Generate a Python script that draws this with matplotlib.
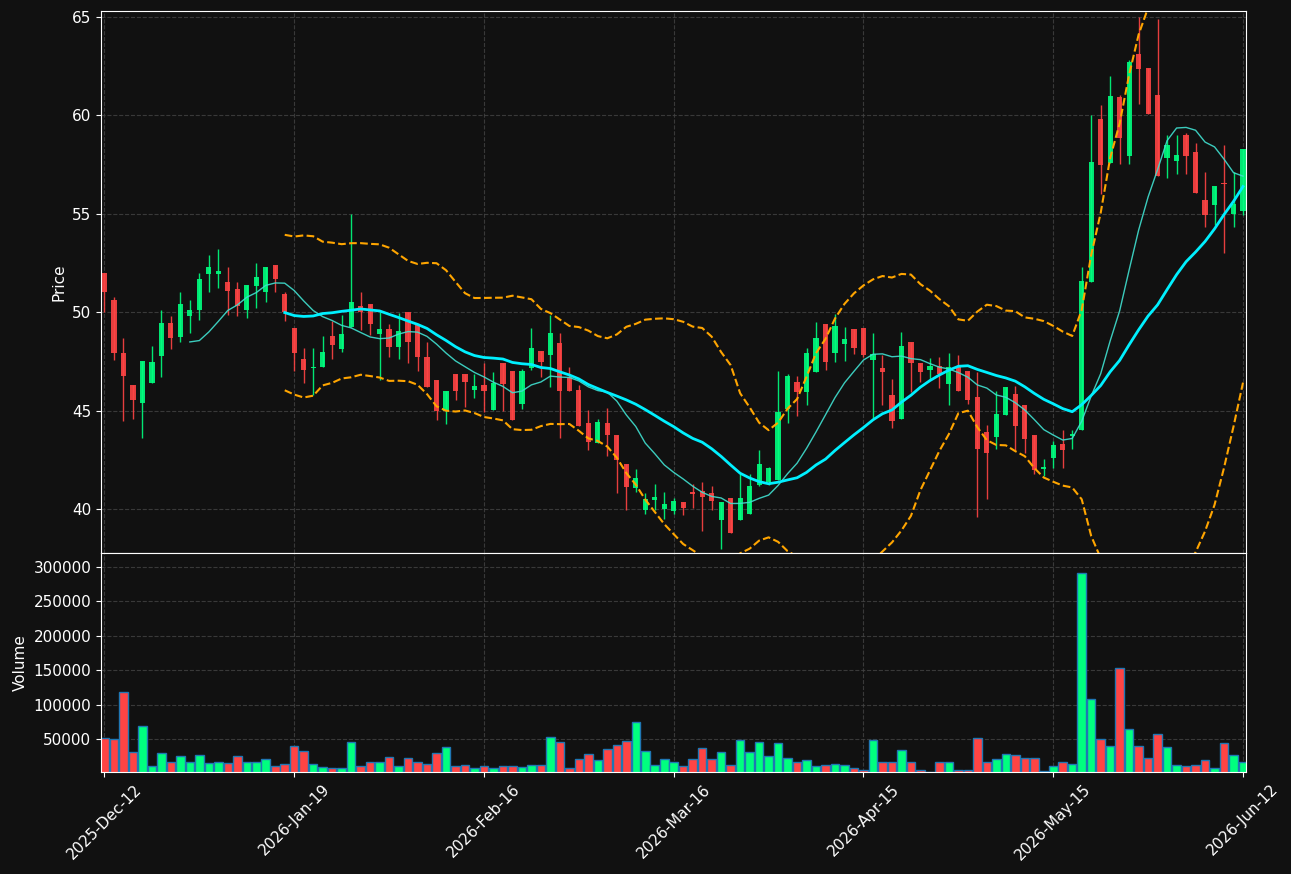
import numpy as np
import pandas as pd
import matplotlib
matplotlib.use("Agg")
import matplotlib.pyplot as plt

# daily OHLC + volume
opens = [51.99, 50.63, 47.94, 46.31, 45.36, 46.38, 47.76, 49.42, 48.71, 49.79,
         50.09, 51.94, 51.94, 51.50, 51.15, 50.09, 51.34, 51.00, 52.40, 50.93,
         49.21, 47.64, 47.14, 47.23, 48.80, 48.10, 49.26, 50.32, 50.42, 48.91,
         49.15, 48.25, 49.98, 49.38, 47.74, 46.53, 45.00, 46.83, 46.83, 46.03,
         46.28, 45.03, 47.43, 47.02, 45.33, 47.18, 48.04, 47.80, 48.45, 46.68,
         46.03, 44.36, 43.33, 44.39, 43.77, 42.28, 41.08, 39.93, 40.48, 39.98,
         39.88, 40.37, 40.88, 40.91, 40.83, 39.44, 40.58, 39.44, 39.74, 41.23,
         41.38, 41.48, 45.06, 46.47, 45.93, 46.98, 49.37, 47.94, 48.40, 49.15,
         49.21, 47.58, 47.18, 45.77, 44.59, 48.50, 47.43, 47.04, 47.28, 46.33,
         47.23, 47.02, 45.68, 43.93, 43.65, 44.76, 45.82, 45.27, 43.74, 42.03,
         42.57, 43.28, 43.69, 43.99, 51.53, 59.81, 57.58, 60.93, 57.94, 63.10,
         62.40, 61.02, 57.80, 57.69, 59.00, 58.10, 55.70, 55.45, 56.52, 54.97,
         55.15]
highs = [51.99, 50.74, 48.69, 46.31, 47.53, 48.27, 50.12, 49.82, 51.04, 50.63,
         51.99, 52.91, 53.21, 52.31, 51.50, 51.39, 52.50, 52.31, 52.40, 51.04,
         49.21, 48.20, 48.20, 48.80, 49.54, 49.84, 55.00, 51.04, 50.42, 50.00,
         49.37, 49.95, 49.98, 49.38, 48.50, 46.53, 46.01, 46.83, 46.83, 46.83,
         47.43, 46.98, 47.43, 47.02, 47.13, 49.21, 48.04, 49.86, 48.94, 47.23,
         46.28, 45.03, 44.59, 45.13, 43.77, 42.28, 42.03, 40.83, 41.27, 40.88,
         40.56, 40.37, 41.27, 41.37, 41.18, 40.34, 40.58, 41.78, 41.78, 42.98,
         42.13, 47.00, 46.83, 46.77, 48.20, 49.51, 49.37, 49.89, 49.26, 49.15,
         49.21, 48.94, 47.80, 46.61, 48.99, 48.50, 47.43, 47.69, 47.74, 47.94,
         47.80, 47.02, 46.95, 44.27, 45.98, 46.21, 46.26, 45.27, 43.74, 42.52,
         43.47, 44.02, 44.02, 52.29, 60.00, 60.51, 61.99, 61.02, 62.79, 65.00,
         62.40, 64.85, 59.00, 59.00, 59.08, 58.59, 57.11, 56.40, 58.50, 57.11,
         58.29]
lows = [50.00, 47.57, 44.48, 44.57, 43.62, 46.38, 46.70, 48.11, 48.47, 48.94,
        49.59, 51.00, 51.20, 49.84, 49.79, 49.68, 50.19, 50.49, 51.00, 49.54,
        47.00, 46.40, 45.77, 47.23, 47.62, 47.99, 49.26, 49.08, 48.85, 46.53,
        47.74, 47.64, 47.43, 47.00, 46.17, 44.53, 44.32, 45.52, 45.19, 45.63,
        44.92, 45.03, 45.00, 44.51, 45.06, 47.04, 46.68, 46.19, 43.62, 45.98,
        44.23, 42.98, 43.33, 42.68, 40.83, 39.93, 40.88, 39.77, 39.93, 39.47,
        39.77, 39.68, 40.04, 38.89, 39.93, 37.99, 38.78, 39.44, 39.74, 41.18,
        41.23, 41.48, 44.37, 44.73, 45.27, 46.98, 47.04, 47.48, 47.53, 47.88,
        47.71, 44.62, 45.27, 44.13, 44.59, 45.93, 46.47, 46.58, 46.12, 45.27,
        45.98, 45.33, 39.59, 40.53, 43.03, 44.76, 42.98, 42.82, 41.78, 41.68,
        42.08, 42.08, 43.03, 43.99, 51.53, 56.00, 57.58, 57.50, 57.50, 60.58,
        60.07, 56.88, 56.79, 57.00, 57.00, 56.05, 54.30, 54.41, 53.00, 54.30,
        54.94]
closes = [51.00, 47.94, 46.74, 45.52, 47.53, 47.48, 49.42, 48.66, 50.42, 50.12,
          51.69, 52.31, 52.10, 51.09, 50.30, 51.39, 51.80, 52.31, 51.66, 50.00,
          47.94, 47.04, 47.23, 47.99, 48.34, 48.91, 50.53, 49.98, 49.38, 49.15,
          48.25, 49.05, 48.50, 47.71, 46.17, 45.00, 46.01, 45.98, 46.44, 46.23,
          45.98, 46.38, 46.33, 44.51, 47.02, 48.15, 47.48, 48.96, 45.98, 45.98,
          44.23, 43.39, 44.43, 43.74, 42.47, 41.13, 41.59, 40.53, 40.63, 40.27,
          40.42, 40.04, 40.78, 40.63, 40.39, 40.34, 38.78, 40.58, 41.18, 42.28,
          42.08, 44.94, 46.77, 45.93, 47.94, 48.69, 47.48, 49.31, 48.64, 48.15,
          47.80, 47.85, 46.98, 44.46, 48.29, 47.39, 46.98, 47.28, 46.83, 47.23,
          45.98, 45.52, 43.03, 42.87, 44.80, 46.21, 44.23, 43.58, 41.98, 42.12,
          43.23, 42.98, 43.83, 51.59, 57.64, 57.48, 60.95, 58.85, 62.70, 62.35,
          60.07, 56.88, 58.50, 57.99, 57.94, 56.05, 54.94, 56.40, 56.49, 55.49,
          58.29]
volumes = [51500, 50000, 119000, 31000, 69000, 11800, 29400, 17600, 25000, 17600,
           26500, 15700, 17600, 15700, 25000, 17600, 17600, 20600, 11800, 14700,
           39700, 32400, 14700, 10300, 8800, 8800, 45600, 11800, 16200, 17600,
           23500, 11800, 22100, 16200, 14700, 29400, 38200, 11800, 13200, 8800,
           11800, 8800, 11800, 11800, 10300, 13200, 13200, 52900, 45600, 8800,
           20600, 27900, 19100, 35300, 41200, 47100, 75000, 32400, 13200, 20600,
           16200, 11800, 20600, 36800, 20600, 30900, 13200, 48500, 30900, 45600,
           25000, 44100, 22100, 17600, 19100, 11800, 13200, 14700, 13200, 8800,
           5900, 48500, 17600, 16200, 33800, 16200, 5900, 2950, 16200, 16200,
           5900, 5900, 51500, 17600, 20600, 27900, 26500, 22100, 22100, 4400,
           11800, 17600, 14700, 291200, 108800, 50000, 39700, 152900, 64700, 39700,
           22100, 57400, 38200, 13200, 11800, 13200, 19100, 8800, 44100, 26500,
           16200]
tick_labels = ['2025-Dec-12', '2026-Jan-19', '2026-Feb-16', '2026-Mar-16',
               '2026-Apr-15', '2026-May-15', '2026-Jun-12']

df = pd.DataFrame({'open': opens, 'high': highs, 'low': lows,
                   'close': closes, 'volume': volumes})
x = np.arange(len(df))
up = df['close'] >= df['open']

# indicators
ma10 = df['close'].rolling(10).mean()
ma20 = df['close'].rolling(20).mean()
sd20 = df['close'].rolling(20).std(ddof=0)
bb_up = ma20 + 2 * sd20
bb_lo = ma20 - 2 * sd20

bg = '#111111'
green, red = '#00FF7F', '#FF4444'
candle_colors = np.where(up, green, red)

fig = plt.figure(figsize=(12.91, 8.74), dpi=100, facecolor=bg)
ax = fig.add_axes([0.0782, 0.3673, 0.8869, 0.6201])
axv = fig.add_axes([0.0782, 0.1167, 0.8869, 0.2506], sharex=ax)

for a in (ax, axv):
    a.set_facecolor(bg)
    a.grid(True, color='#444444', linestyle='--', linewidth=0.8, alpha=0.8)
    a.set_axisbelow(True)
    for s in a.spines.values():
        s.set_color('white')
    a.tick_params(colors='white', labelsize=11)

# candles
ax.vlines(x, df['low'], df['high'], colors=candle_colors, linewidth=1, alpha=0.9)
body_lo = np.minimum(df['open'], df['close'])
body_h = np.maximum((df['close'] - df['open']).abs(), 0.04)
ax.bar(x, body_h, bottom=body_lo, width=0.55, color=candle_colors, alpha=0.9)

ax.plot(x, ma10, color='#40E0D0', linewidth=1, alpha=0.9)
ax.plot(x, ma20, color='#00F0FF', linewidth=2)
ax.plot(x, bb_up, color='#FFA500', linestyle='--', linewidth=1.5)
ax.plot(x, bb_lo, color='#FFA500', linestyle='--', linewidth=1.5)

ax.set_ylim(37.77, 65.28)
ax.set_ylabel('Price', color='white', fontsize=11)
ax.tick_params(labelbottom=False)

# volume
axv.bar(x, df['volume'], width=0.9, color=candle_colors,
        edgecolor='#1f77b4', linewidth=1)
axv.set_ylim(2400, df['volume'].max() * 1.1)
axv.set_ylabel('Volume', color='white', fontsize=11)
axv.ticklabel_format(axis='y', style='plain')

ticks = np.arange(0, len(df), 20)
axv.set_xticks(ticks)
axv.set_xticklabels(tick_labels, rotation=45)
axv.set_xlim(-0.37, len(df) - 0.69)

fig.savefig('out.png', dpi=100, facecolor=bg)
